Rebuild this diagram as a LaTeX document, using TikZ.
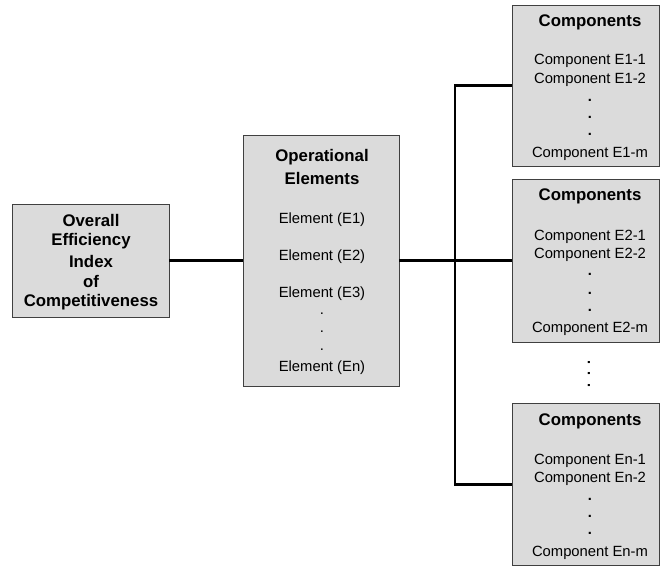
\documentclass[tikz,border=0pt]{standalone}
\usepackage{fontspec}
\setmainfont{Liberation Sans}
\begin{document}
\begin{tikzpicture}[x=1pt,y=-1pt,
  box/.style={draw=black!75,line width=0.9pt,fill=black!14,inner sep=0pt},
  rg/.style={inner sep=0pt,font=\fontsize{14.8}{16}\selectfont},
  bd/.style={inner sep=0pt,font=\fontsize{16.8}{18}\selectfont\bfseries},
  dt/.style={inner sep=0pt,font=\fontsize{14.6}{16}\selectfont\bfseries},
  link/.style={line width=2.3pt,black}]
\useasboundingbox (0,0) rectangle (660,567);
% boxes
\node[box,minimum width=157pt,minimum height=113pt] (ov) at (90.5,260.5) {};
\node[box,minimum width=156pt,minimum height=251pt] (op) at (321,260.5) {};
\node[box,minimum width=147pt,minimum height=161pt] (c1) at (585.5,85.5) {};
\node[box,minimum width=147pt,minimum height=163pt] (c2) at (585.5,260.5) {};
\node[box,minimum width=147pt,minimum height=162pt] (c3) at (585.5,484.5) {};
% connectors
\coordinate (bus) at (455,260.5);
\draw[link] (ov.east) -- (op.west);
\draw[link] (op.east) -- (c2.west);
\draw[link] (c1.west) -| (bus) |- (c3.west);
% overall box text
\node[bd] (t1) at (91,220) {Overall};
\node[bd] (t2) at (91,241) {Efficiency};
\node[bd] (t3) at (91,261) {Index};
\node[bd] (t4) at (91,281) {of};
\node[bd] (t5) at (91,302) {Competitiveness};
% operational elements
\node[bd] (o1) at (322,157) {Operational};
\node[bd] (o2) at (322,178) {Elements};
\node[rg] (e1) at (322,220) {Element (E1)};
\node[rg] (e2) at (322,257) {Element (E2)};
\node[rg] (e3) at (322,294) {Element (E3)};
\node[rg] (d1) at (322,314) {.};
\node[rg] (d2) at (322,332) {.};
\node[rg] (d3) at (322,350) {.};
\node[rg] (en) at (322,368) {Element (En)};
% components 1
\node[bd] (a0) at (590,22) {Components};
\node[rg] (a1) at (590,61) {Component E1-1};
\node[rg] (a2) at (590,80) {Component E1-2};
\node[dt] (a3) at (590,100) {.};
\node[dt] (a4) at (590,117) {.};
\node[dt] (a5) at (590,134) {.};
\node[rg] (a6) at (590,154) {Component E1-m};
% components 2
\node[bd] (b0) at (590,196) {Components};
\node[rg] (b1) at (590,237) {Component E2-1};
\node[rg] (b2) at (590,255) {Component E2-2};
\node[dt] (b3) at (590,274) {.};
\node[dt] (b4) at (590,293) {.};
\node[dt] (b5) at (590,310) {.};
\node[rg] (b6) at (590,329) {Component E2-m};
% between
\node[dt,rotate=-90] (mid) at (589,374) {.\hspace{7.8pt}.\hspace{7.8pt}.};
% components n
\node[bd] (n0) at (590,421) {Components};
\node[rg] (n1) at (590,461) {Component En-1};
\node[rg] (n2) at (590,479) {Component En-2};
\node[dt] (n3) at (590,499) {.};
\node[dt] (n4) at (590,516) {.};
\node[dt] (n5) at (590,533) {.};
\node[rg] (n6) at (590,553) {Component En-m};
\end{tikzpicture}
\end{document}
